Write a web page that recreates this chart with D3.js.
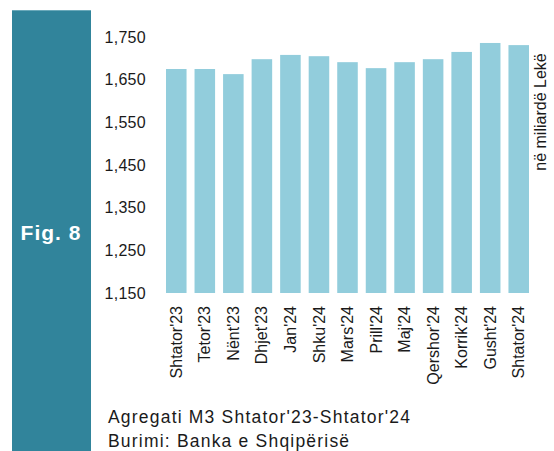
<!DOCTYPE html>
<html>
<head>
<meta charset="utf-8">
<script src="https://cdn.jsdelivr.net/npm/d3@7"></script>
<style>
  body { margin: 0; background: #fff; }
  svg text { font-family: "Liberation Sans", Arial, sans-serif; fill: #1a1a1a; }
</style>
</head>
<body>
<div class="wrapper"></div>
<script>
const months = ["Shtator'23", "Tetor'23", "Nënt'23", "Dhjet'23", "Jan'24", "Shku'24",
    "Mars'24", "Prill'24", "Maj'24", "Qershor'24", "Korrik'24", "Gusht'24", "Shtator'24"]
const m3Values = [1675, 1675, 1663, 1698, 1708, 1705, 1691, 1677, 1691, 1698, 1715, 1736, 1731]
const yTicks = [1150, 1250, 1350, 1450, 1550, 1650, 1750]
const unitLabel = "në miliardë Lekë"
const figLabel = "Fig. 8"
const captions = ["Agregati M3 Shtator'23-Shtator'24", "Burimi: Banka e Shqipërisë"]

const width = 554
const height = 451

const svg = d3.select(".wrapper")
    .append("svg")
    .attr("width", width)
    .attr("height", height)

// left colour strip with figure number
svg.append("rect")
    .attr("x", 12)
    .attr("y", 10)
    .attr("width", 79)
    .attr("height", height - 10)
    .attr("fill", "#31849B")
svg.append("rect")
    .attr("x", 12)
    .attr("y", 10)
    .attr("width", 79)
    .attr("height", 1)
    .attr("fill", "#6aa9ba")

svg.append("text")
    .attr("x", 51)
    .attr("y", 240)
    .attr("text-anchor", "middle")
    .style("font-size", "21px")
    .style("font-weight", "bold")
    .style("letter-spacing", "1px")
    .style("fill", "#fff")
    .text(figLabel)

const x = d3.scaleBand()
    .domain(months)
    .range([162, 533])
    .paddingInner(0.28)
    .paddingOuter(0.14)

const y = d3.scaleLinear()
    .domain([1150, 1750])
    .range([293, 37])

svg.append("g")
    .selectAll("rect")
    .data(m3Values)
    .enter().append("rect")
    .attr("x", (d, i) => x(months[i]))
    .attr("y", d => y(d))
    .attr("width", x.bandwidth())
    .attr("height", d => y(1150) - y(d))
    .attr("fill", "#92CDDC")

const yAxis = svg.append("g")
    .attr("transform", "translate(146,0)")
    .call(d3.axisLeft(y).tickValues(yTicks).tickFormat(d3.format(",")).tickSize(0).tickPadding(0))
yAxis.select(".domain").remove()
yAxis.selectAll("text")
    .style("font-size", "16px")
    .style("letter-spacing", "0.3px")
    .style("fill", "#1a1a1a")

const xAxis = svg.append("g")
    .attr("transform", "translate(0,304)")
    .call(d3.axisBottom(x).tickSize(0).tickPadding(0))
xAxis.select(".domain").remove()
xAxis.selectAll("text")
    .style("font-size", "16px")
    .style("fill", "#1a1a1a")
    .attr("transform", "rotate(-90)")
    .attr("x", -2)
    .attr("y", 0)
    .attr("dy", "0.35em")
    .style("text-anchor", "end")

svg.append("text")
    .attr("transform", "translate(546,112) rotate(-90)")
    .attr("text-anchor", "middle")
    .style("font-size", "16px")
    .text(unitLabel)

svg.selectAll(".caption")
    .data(captions)
    .enter().append("text")
    .attr("class", "caption")
    .attr("x", 108)
    .attr("y", (d, i) => 423 + i * 24)
    .style("font-size", "17.5px")
    .style("letter-spacing", "1.2px")
    .text(d => d)
</script>
</body>
</html>
